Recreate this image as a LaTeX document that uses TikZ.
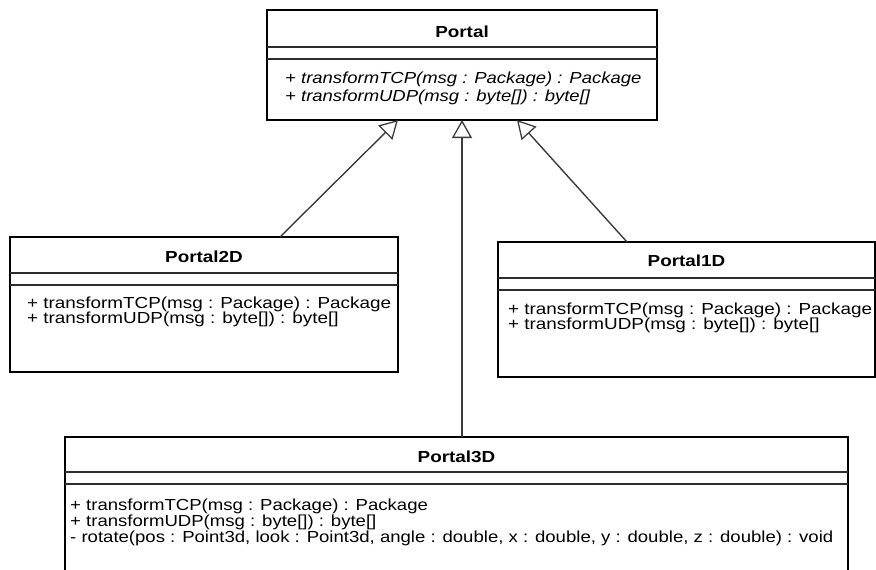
\documentclass[tikz,border=0pt]{standalone}
\usepackage{fontspec}
\usepackage{tikz}
\usetikzlibrary{arrows.meta,calc}
\newfontfamily\umlfont[FakeStretch=1.18]{Liberation Sans}
\newfontfamily\umlitfont[FakeStretch=1.155]{Liberation Sans}
\newfontfamily\umlnarrowfont[FakeStretch=1.16]{Liberation Sans}
\definecolor{umlrule}{RGB}{45,45,45}
\definecolor{umlline}{RGB}{60,60,60}

\begin{document}
\begin{tikzpicture}[x=1pt,y=-1pt,
  classbox/.style={draw=black,line width=2.6pt,fill=white,inner sep=0pt,outer sep=0pt,anchor=north west},
  separator/.style={draw=umlrule,line width=1.8pt},
  classname/.style={anchor=base,inner sep=0pt,font=\umlfont\bfseries\fontsize{16}{18}\selectfont},
  method/.style={anchor=base west,inner sep=0pt,font=\umlfont\fontsize{16}{18}\selectfont},
  abstractop/.style={method,font=\umlitfont\itshape\fontsize{16}{18}\selectfont},
  narrowop/.style={method,font=\umlnarrowfont\fontsize{16}{18}\selectfont},
  inherit/.style={draw=umlline,line width=1.4pt,-{Triangle[open,length=18pt,width=20pt,line width=1.3pt]}}]
  \useasboundingbox (0,0) rectangle (876,570);
  \fill[white] (0,0) rectangle (876,570);
  \clip (0,0) rectangle (876,570);

  % class boxes
  \node[classbox,minimum width=390pt,minimum height=110pt] (portal) at (267,10) {};
  \node[classbox,minimum width=388pt,minimum height=135pt] (p2d) at (10,237) {};
  \node[classbox,minimum width=377pt,minimum height=135pt] (p1d) at (498,242) {};
  \node[classbox,minimum width=783pt,minimum height=170pt] (p3d) at (65,437) {};

  % name / attribute / operation compartments
  \foreach \cls/\dy in {portal/37,p2d/36,p1d/36,p3d/35}{
    \draw[separator] ($(\cls.north west)+(0,\dy)$) -- ($(\cls.north east)+(0,\dy)$);
    \draw[separator] ($(\cls.north west)+(0,\dy+12)$) -- ($(\cls.north east)+(0,\dy+12)$);
  }

  \node[classname] (portal-name) at ($(portal.north)+(0,27)$) {Portal};
  \node[classname] (p2d-name) at ($(p2d.north)+(0,25)$) {Portal2D};
  \node[classname] (p1d-name) at ($(p1d.north)+(0,24)$) {Portal1D};
  \node[classname] (p3d-name) at ($(p3d.north)+(0,25)$) {Portal3D};

  \foreach \op [count=\i] in {{+ transformTCP(msg : Package) : Package},{+ transformUDP(msg : byte[]) : byte[]}}{
    \node[abstractop] (portal-op\i) at (285,{65+18*\i}) {\op};
    \node[method] (p2d-op\i) at (27,{293+15*\i}) {\op};
    \node[method] (p1d-op\i) at (508,{299+15*\i}) {\op};
  }
  \foreach \op [count=\i] in {{+ transformTCP(msg : Package) : Package},{+ transformUDP(msg : byte[]) : byte[]},
      {- rotate(pos : Point3d, look : Point3d, angle : double, x : double, y : double, z : double) : void}}{
    \node[narrowop] (p3d-op\i) at (70,{494+16*\i}) {\op};
  }

  % generalisations
  \draw[inherit] ($(p2d.north west)+(270,0)$) -- ($(portal.south)+(-64,0)$);
  \draw[inherit] (p3d.north -| portal.south) -- (portal.south);
  \draw[inherit] ($(p1d.north west)+(129,0)$) -- ($(portal.south)+(55,0)$);
\end{tikzpicture}
\end{document}
